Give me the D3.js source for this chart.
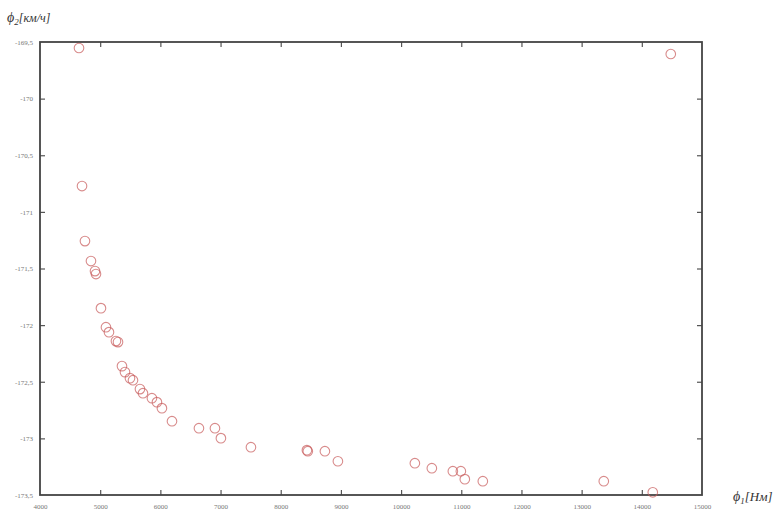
<!DOCTYPE html>
<html>
<head>
<meta charset="utf-8">
<script src="https://cdn.jsdelivr.net/npm/d3@7/dist/d3.min.js"></script>
<style>
  html, body { margin: 0; padding: 0; background: #fff; }
  svg { display: block; }
</style>
</head>
<body>
<svg id="chart" width="784" height="511"></svg>
<script>
// Pareto front: phi1 (torque, Нм) vs phi2 (speed, км/ч)
const phi1 = [4648, 14481, 4698, 4747, 4847, 4914, 4930, 5013, 5096, 5146,
              5262, 5296, 5362, 5412, 5495, 5545, 5661, 5711, 5860, 5943,
              6026, 6193, 6641, 6907, 7006, 7505, 8435, 8450, 8734, 8950,
              10229, 10511, 10860, 10993, 11059, 11358, 13368, 14182];
const phi2 = [-169.553, -169.606, -170.772, -171.258, -171.434, -171.523, -171.549, -171.850, -172.018, -172.062,
              -172.141, -172.150, -172.362, -172.415, -172.468, -172.486, -172.565, -172.601, -172.645, -172.680,
              -172.733, -172.848, -172.910, -172.910, -172.998, -173.078, -173.104, -173.113, -173.113, -173.202,
              -173.219, -173.263, -173.290, -173.290, -173.360, -173.378, -173.378, -173.476];

const xTicks = [4000, 5000, 6000, 7000, 8000, 9000, 10000, 11000, 12000, 13000, 14000, 15000];
const yTicks = [-169.5, -170, -170.5, -171, -171.5, -172, -172.5, -173, -173.5];

const svg = d3.select("#chart");
const plotL = 40, plotR = 702, plotT = 42, plotB = 495;

const x = d3.scaleLinear().domain([4000, 15000]).range([plotL, plotR]);
const y = d3.scaleLinear().domain([-173.5, -169.5]).range([plotB, plotT]);

const fmtY = d => String(d).replace(".", ",");

// bottom axis with inward ticks
const gx = svg.append("g").attr("transform", `translate(0,${plotB})`)
  .call(d3.axisBottom(x).tickValues(xTicks).tickSize(-5).tickPadding(9).tickFormat(d => d));
// top axis mirror ticks
const gxt = svg.append("g").attr("transform", `translate(0,${plotT})`)
  .call(d3.axisTop(x).tickValues(xTicks).tickSize(-5).tickFormat(""));
// left axis
const gy = svg.append("g").attr("transform", `translate(${plotL},0)`)
  .call(d3.axisLeft(y).tickValues(yTicks).tickSize(-5).tickPadding(7).tickFormat(fmtY));
// right axis mirror ticks
const gyr = svg.append("g").attr("transform", `translate(${plotR},0)`)
  .call(d3.axisRight(y).tickValues(yTicks).tickSize(-5).tickFormat(""));

[gx, gxt, gy, gyr].forEach(g => {
  g.select(".domain").remove();
  g.selectAll(".tick line").attr("stroke", "#555").attr("stroke-width", 1.2);
  g.selectAll(".tick text").attr("fill", "#777").attr("font-size", 7)
    .attr("font-family", "Liberation Serif, serif");
});
gxt.selectAll(".tick").filter(d => d === 4000 || d === 15000).remove();
gx.selectAll(".tick line").filter(d => d === 4000 || d === 15000).remove();
gy.selectAll(".tick line").filter(d => d === -169.5 || d === -173.5).remove();
gyr.selectAll(".tick").filter(d => d === -169.5 || d === -173.5).remove();

// frame
svg.append("rect")
  .attr("x", plotL).attr("y", plotT)
  .attr("width", plotR - plotL).attr("height", plotB - plotT)
  .attr("fill", "none").attr("stroke", "#444").attr("stroke-width", 1.8);

// markers
svg.append("g").selectAll("circle")
  .data(phi1.map((v, i) => [v, phi2[i]]))
  .join("circle")
  .attr("cx", d => x(d[0]))
  .attr("cy", d => y(d[1]))
  .attr("r", 4.8)
  .attr("fill", "none")
  .attr("stroke", "#c85a5a")
  .attr("stroke-opacity", 0.7)
  .attr("stroke-width", 1.1);

// axis titles
const t2 = svg.append("text").attr("x", 7).attr("y", 22)
  .attr("font-family", "Liberation Serif, serif").attr("font-size", 14)
  .attr("font-style", "italic").attr("fill", "#333");
t2.append("tspan").text("ϕ");
t2.append("tspan").attr("font-size", 9).attr("dy", 3).text("2");
t2.append("tspan").attr("dy", -3).attr("font-size", 12).text("[км/ч]");

const t1 = svg.append("text").attr("x", 733).attr("y", 501)
  .attr("font-family", "Liberation Serif, serif").attr("font-size", 14)
  .attr("font-style", "italic").attr("fill", "#333");
t1.append("tspan").text("ϕ");
t1.append("tspan").attr("font-size", 9).attr("dy", 3).text("1");
t1.append("tspan").attr("dy", -3).attr("font-size", 13).text("[Нм]");
</script>
</body>
</html>
